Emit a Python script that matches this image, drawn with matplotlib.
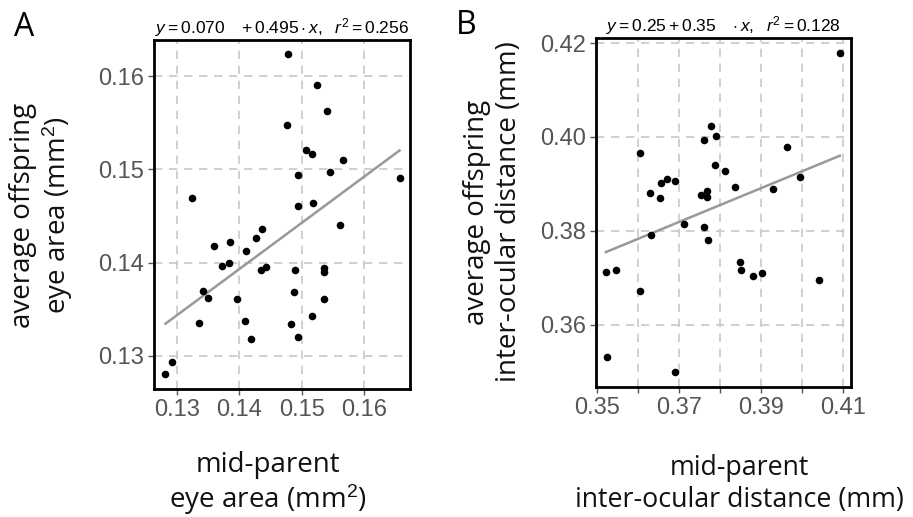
import numpy as np
import matplotlib
matplotlib.use("Agg")
import matplotlib.pyplot as plt

# Panel A : eye area (mm2)
eye_parent = [0.1478, 0.1524, 0.1540, 0.1476, 0.1507, 0.1517, 0.1567, 0.1546, 0.1494, 0.1657,
              0.1324, 0.1494, 0.1518, 0.1561, 0.1437, 0.1427, 0.1360, 0.1386, 0.1411, 0.1383,
              0.1373, 0.1435, 0.1443, 0.1489, 0.1536, 0.1536, 0.1342, 0.1350, 0.1396, 0.1488,
              0.1536, 0.1335, 0.1410, 0.1517, 0.1483, 0.1419, 0.1494, 0.1293, 0.1282]
eye_offspring = [0.1624, 0.1590, 0.1562, 0.1548, 0.1521, 0.1516, 0.1510, 0.1497, 0.1494, 0.1491,
                 0.1469, 0.1461, 0.1464, 0.1440, 0.1436, 0.1426, 0.1418, 0.1422, 0.1412, 0.1400,
                 0.1396, 0.1392, 0.1395, 0.1392, 0.1394, 0.1390, 0.1370, 0.1362, 0.1361, 0.1369,
                 0.1361, 0.1335, 0.1338, 0.1343, 0.1334, 0.1318, 0.1320, 0.1293, 0.1281]
fit_a = (0.070, 0.495)

# Panel B : inter-ocular distance (mm)
iod_parent = [0.4092, 0.3778, 0.3790, 0.3761, 0.3604, 0.3963, 0.3787, 0.3811, 0.3837, 0.3994,
              0.3928, 0.3671, 0.3655, 0.3690, 0.3629, 0.3652, 0.3754, 0.3767, 0.3767, 0.3711,
              0.3761, 0.3770, 0.3631, 0.3521, 0.3545, 0.3604, 0.3848, 0.3850, 0.3880, 0.3903,
              0.4041, 0.3523, 0.3689]
iod_offspring = [0.4179, 0.4023, 0.4002, 0.3994, 0.3965, 0.3978, 0.3940, 0.3927, 0.3893, 0.3914,
                 0.3889, 0.3910, 0.3901, 0.3906, 0.3881, 0.3870, 0.3877, 0.3884, 0.3872, 0.3814,
                 0.3809, 0.3780, 0.3791, 0.3713, 0.3717, 0.3671, 0.3733, 0.3717, 0.3704, 0.3709,
                 0.3696, 0.3531, 0.3498]
fit_b = (0.2487, 0.360)

xticks_a = [0.13, 0.14, 0.15, 0.16]
yticks_a = [0.13, 0.14, 0.15, 0.16]
xticks_b = [0.35, 0.36, 0.37, 0.38, 0.39, 0.40, 0.41]
xlabels_b = ["0.35", "", "0.37", "", "0.39", "", "0.41"]
yticks_b = [0.36, 0.38, 0.40, 0.42]

plt.rcParams['font.family'] = ['Liberation Sans', 'DejaVu Sans']
plt.rcParams['mathtext.fontset'] = 'custom'
plt.rcParams['mathtext.rm'] = 'Liberation Sans'
plt.rcParams['mathtext.it'] = 'Liberation Sans:italic'

W, H = 913, 517
fig = plt.figure(figsize=(W / 100, H / 100), dpi=100)

def box(l, t, r, b):
    return [l / W, 1 - b / H, (r - l) / W, (b - t) / H]

def style(ax):
    ax.grid(True, color='#c8c8c8', linestyle=(0, (5, 4)), linewidth=1.2)
    ax.set_axisbelow(True)
    for s in ax.spines.values():
        s.set_linewidth(2.0)
        s.set_color('black')
    ax.tick_params(direction='out', length=4, width=1, color='#555555',
                   labelcolor='#555555', labelsize=17, pad=3)

def draw(ax, x, y, fit):
    ax.scatter(x, y, s=30, color='black', zorder=3, linewidths=0)
    xs = np.array([min(x), max(x)])
    ax.plot(xs, fit[0] + fit[1] * xs, color='#999999', linewidth=1.8, zorder=2)

# ---- Panel A
ax1 = fig.add_axes(box(154, 40, 410, 389))
draw(ax1, eye_parent, eye_offspring, fit_a)
ax1.set_xlim(0.12636, 0.16737)
ax1.set_ylim(0.12646, 0.16386)
ax1.set_xticks(xticks_a)
ax1.set_xticklabels([f"{v:.2f}" for v in xticks_a])
ax1.set_yticks(yticks_a)
ax1.set_yticklabels([f"{v:.2f}" for v in yticks_a])
style(ax1)
ax1.set_title(r"$y=0.070\ \ \ +0.495\cdot x,\ \ r^2=0.256$", fontsize=12.5, pad=5)

# ---- Panel B
ax2 = fig.add_axes(box(596, 38, 851, 387))
draw(ax2, iod_parent, iod_offspring, fit_b)
ax2.set_xlim(0.3497, 0.4119)
ax2.set_ylim(0.3467, 0.4211)
ax2.set_xticks(xticks_b)
ax2.set_xticklabels(xlabels_b)
ax2.set_yticks(yticks_b)
ax2.set_yticklabels([f"{v:.2f}" for v in yticks_b])
style(ax2)
ax2.set_title(r"$y=0.25+0.35\ \ \ \cdot x,\ \ r^2=0.128$", fontsize=12.5, pad=5)

# axis labels and panel letters
lab = dict(family='Open Sans', fontsize=20, color='#111111', linespacing=1.15)
fig.text(268 / W, 1 - 484 / H, "mid-parent\neye area (mm$^{2}$)", ha='center', va='center', **lab)
fig.text(739 / W, 1 - 484 / H, "mid-parent\ninter-ocular distance (mm)", ha='center', va='center',
         family='Open Sans', fontsize=19.3, color='#111111', linespacing=1.18)
fig.text(42 / W, 1 - 215 / H, "average offspring\neye area (mm$^{2}$)", ha='center', va='center',
         rotation=90, **lab)
fig.text(493 / W, 1 - 212 / H, "average offspring\ninter-ocular distance (mm)", ha='center', va='center',
         rotation=90, **lab)
fig.text(14 / W, 1 - 28 / H, "A", family='Open Sans', fontsize=23, ha='left', va='center')
fig.text(456 / W, 1 - 25 / H, "B", family='Open Sans', fontsize=23, ha='left', va='center')

fig.savefig("out.png", dpi=100)
